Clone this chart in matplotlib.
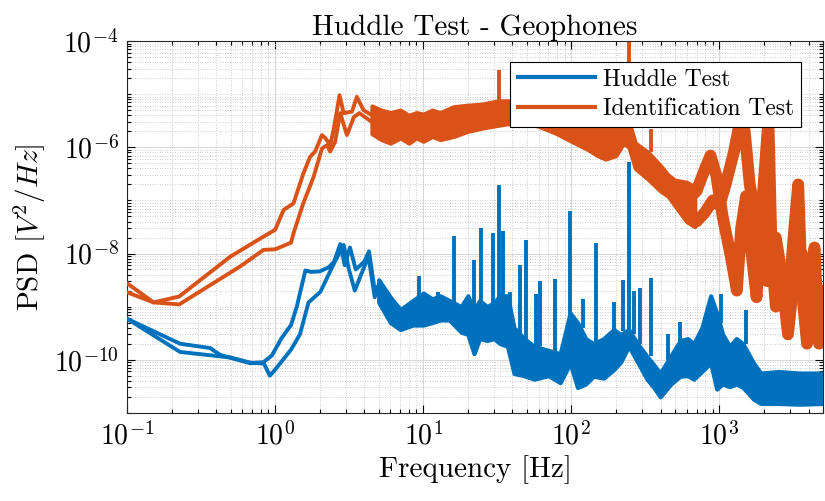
import numpy as np
import matplotlib
matplotlib.use("Agg")
import matplotlib.pyplot as plt
from matplotlib.ticker import LogLocator, NullFormatter, LogFormatterMathtext
from matplotlib.lines import Line2D

plt.rcParams['font.family'] = ['cmr10', 'DejaVu Serif']
plt.rcParams['mathtext.fontset'] = 'cm'
plt.rcParams['axes.unicode_minus'] = False
plt.rcParams['axes.formatter.use_mathtext'] = True

BLUE = '#0072BD'
ORANGE = '#D95319'

# ---------------- Huddle test: low-frequency part (two geophones) ----------------
hud1_f = [0.1, 0.228, 0.364, 0.425, 0.68, 0.834, 0.95, 1.1, 1.28, 1.4, 1.6, 1.75, 2.0, 2.3, 2.5,
          2.75, 2.95, 3.2, 3.5, 4.0, 4.3, 4.7, 5.0]
hud1_v = [5.9e-10, 2.0e-10, 1.66e-10, 1.23e-10, 8.6e-11, 9.0e-11, 1.2e-10, 2.5e-10, 4.5e-10, 1.0e-9,
          4.8e-9, 4.5e-9, 4.6e-9, 5.5e-9, 7e-9, 1.5e-8, 6e-9, 1.3e-8, 5e-9, 7e-9, 1.1e-8, 2e-9, 2.5e-9]
hud2_f = [0.1, 0.228, 0.5, 0.68, 0.84, 0.92, 1.0, 1.28, 1.47, 1.68, 2.02, 2.5, 2.9, 3.15, 3.45,
          3.8, 4.27, 4.7, 5.0]
hud2_v = [5.9e-10, 1.4e-10, 1.1e-10, 8.8e-11, 8.5e-11, 5e-11, 6.5e-11, 1.55e-10, 3e-10, 1.2e-9,
          1.9e-9, 6.6e-9, 1.45e-8, 5e-9, 2.0e-9, 4e-9, 8.7e-9, 1.5e-9, 2.5e-9]

# Huddle test: noisy band (envelope) above ~5 Hz
hud_band_f = [5, 6, 7, 8.5, 10, 11.5, 13, 15, 18, 20, 22, 24, 27, 30, 33, 37, 41, 48, 56, 70, 84,
              98, 110, 125, 141, 165, 193, 215, 244, 280, 324, 360, 398, 470, 544, 610, 670, 760,
              871, 958, 1050, 1170, 1300, 1440, 1700, 1900, 2500, 3500, 5000]
hud_band_lo = [1.2e-9, 5e-10, 3.7e-10, 4.5e-10, 4.5e-10, 5e-10, 5.6e-10, 5.6e-10, 3.3e-10, 3e-10,
               1.3e-10, 2.5e-10, 2.3e-10, 2.5e-10, 2.0e-10, 1.8e-10, 5.5e-11, 5e-11, 4.3e-11, 5e-11,
               3.7e-11, 8.6e-11, 3e-11, 3.5e-11, 4.9e-11, 4.5e-11, 6.5e-11, 9e-11, 1.8e-10, 9e-11,
               4.3e-11, 3e-11, 2.0e-11, 3.5e-11, 4.9e-11, 5e-11, 4.3e-11, 6e-11, 8.7e-11, 2.8e-11,
               3.5e-11, 3.1e-11, 3.5e-11, 3e-11, 1.8e-11, 1.5e-11, 1.5e-11, 1.45e-11, 1.5e-11]
hud_band_hi = [3.2e-9, 1.5e-9, 8.8e-10, 1.3e-9, 1.8e-9, 1.4e-9, 1.6e-9, 1.3e-9, 1.0e-9, 1.6e-9,
               8.8e-10, 1.3e-9, 1.0e-9, 1.2e-9, 1.6e-9, 1.6e-9, 4e-10, 2.5e-10, 1.8e-10, 1.5e-10,
               1.3e-10, 7.6e-10, 5e-10, 2.5e-10, 2.0e-10, 2.5e-10, 3.7e-10, 3e-10, 3.7e-10, 2e-10,
               1.16e-10, 8e-11, 5.6e-11, 1.2e-10, 2.3e-10, 2.5e-10, 2.0e-10, 4e-10, 1.6e-9, 7.6e-10,
               3e-10, 1.8e-10, 2.5e-10, 2e-10, 8.6e-11, 5.6e-11, 6e-11, 5.6e-11, 5.6e-11]

# Huddle test: narrow peaks
hud_spike_f = [9.4, 12.6, 16, 22, 24.7, 29.6, 32.6, 34.6, 38.6, 45, 49.5, 57.7, 61.7, 77.6, 98,
               120, 147, 195, 223, 245, 266, 292, 343, 446, 542, 1028, 1510]
hud_spike_peak = [3.7e-9, 1.9e-9, 2.1e-8, 7.6e-9, 3.0e-8, 2.4e-8, 1.95e-7, 2.6e-8, 1.9e-9, 6.1e-9,
                  1.8e-8, 1.7e-9, 3.0e-9, 3.3e-9, 6.2e-8, 1.4e-9, 1.6e-8, 1.2e-9, 3.2e-9, 5.4e-7,
                  2.0e-9, 2.2e-9, 3.4e-9, 3e-10, 5.2e-10, 1.7e-9, 8.8e-10]
hud_spike_base = [1.5e-9, 1.5e-9, 1.2e-9, 8e-10, 1e-9, 1e-9, 1.5e-9, 1.5e-9, 4e-10, 2e-10,
                  2e-10, 1.8e-10, 1.8e-10, 1.3e-10, 7e-10, 4e-10, 2e-10, 3e-10, 3.5e-10, 3.7e-10,
                  3e-10, 2e-10, 1.2e-10, 1e-10, 2e-10, 5e-10, 2e-10]

# ---------------- Identification test: low-frequency part ----------------
id1_f = [0.1, 0.151, 0.225, 0.497, 0.79, 1.0, 1.14, 1.33, 1.55, 1.72, 1.86, 2.07, 2.18, 2.35,
         2.48, 2.72, 2.9, 3.3, 3.56, 3.95, 4.5]
id1_v = [2.75e-9, 1.2e-9, 1.55e-9, 8.7e-9, 1.9e-8, 2.8e-8, 6.6e-8, 8.8e-8, 3.2e-7, 6.6e-7, 8.3e-7,
         1.7e-6, 1.5e-6, 1.1e-6, 2.1e-6, 9.6e-6, 4.4e-6, 4.7e-6, 8.9e-6, 5e-6, 4e-6]
id2_f = [0.1, 0.151, 0.225, 0.58, 0.834, 1.0, 1.28, 1.33, 1.55, 1.82, 2.07, 2.24, 2.35, 2.54,
         2.75, 3.05, 3.4, 3.7, 4.5]
id2_v = [1.86e-9, 1.2e-9, 1.1e-9, 5.7e-9, 1.17e-8, 1.2e-8, 1.6e-8, 2.4e-8, 8.9e-8, 2.8e-7, 9.5e-7,
         1.1e-6, 8.3e-7, 1.27e-6, 4.4e-6, 1.7e-6, 3.7e-6, 4.4e-6, 3e-6]

# Identification test: noisy band 4.5 - 650 Hz
id_band_f = [4.5, 5.2, 6, 7, 8, 9, 10, 11.5, 13, 16, 20, 25, 32, 38, 45, 60, 80, 100, 130, 150,
             170, 200, 225, 245, 270, 330, 400, 450, 500, 600, 680]
id_band_lo = [1.8e-6, 1.4e-6, 1.2e-6, 1.5e-6, 1.2e-6, 1.5e-6, 1.3e-6, 1.6e-6, 1.4e-6, 1.6e-6,
              2.0e-6, 2.3e-6, 2.6e-6, 2.8e-6, 3.0e-6, 2.5e-6, 1.8e-6, 1.3e-6, 9e-7, 7e-7, 6e-7,
              7e-7, 1.2e-6, 1.0e-6, 4e-7, 2.5e-7, 1.5e-7, 1.2e-7, 8e-8, 4e-8, 3.2e-8]
id_band_hi = [6e-6, 5e-6, 4.5e-6, 5e-6, 4e-6, 4.5e-6, 4.2e-6, 5e-6, 4.5e-6, 5.8e-6, 6.2e-6,
              6.5e-6, 7.5e-6, 7.5e-6, 7.0e-6, 6e-6, 4.5e-6, 3.5e-6, 2.8e-6, 2.6e-6, 2.4e-6, 2.6e-6,
              4.5e-6, 3e-6, 1.2e-6, 8e-7, 4.5e-7, 3e-7, 2.4e-7, 2.2e-7, 1.8e-7]

# Identification test: two diverging traces above 600 Hz
idA_f = [600, 700, 800, 870, 950, 1050, 1200, 1310, 1400, 1510, 1600, 1780, 1950, 2140, 2250,
         2400, 2600, 2900, 3200, 3400, 3600, 3900, 4300, 4600, 5000]
idA_v = [1.0e-7, 1.5e-7, 4e-7, 7e-7, 3e-7, 5e-8, 8e-9, 2e-9, 3e-8, 1.2e-7, 2e-8, 1.5e-9, 1e-7,
         3.3e-6, 1e-8, 1e-9, 5e-9, 1e-9, 3e-8, 2e-7, 2e-9, 2e-10, 1e-8, 3e-10, 1e-9]
idB_f = [600, 700, 800, 900, 1000, 1100, 1250, 1400, 1480, 1600, 1870, 2100, 2400, 2600, 2900,
         3200, 3600, 3900, 4380, 4700, 5000]
idB_v = [6e-8, 4e-8, 6e-8, 1e-7, 8e-8, 2e-7, 8e-7, 4e-6, 2e-6, 2e-7, 2e-8, 3e-9, 2e-8, 5e-9,
         3e-10, 4e-9, 1e-8, 5e-10, 1.3e-8, 2e-10, 2e-9]

# Identification test: narrow peaks
id_spike_f = [32.6, 245, 343]
id_spike_peak = [2.8e-5, 3e-4, 2.2e-6]
id_spike_base = [7e-6, 3e-6, 8e-7]

# ---------------- Figure ----------------
fig = plt.figure(figsize=(8.25, 5.01), dpi=100)
ax = fig.add_axes([0.154, 0.176, 0.8436, 0.742])

lw = 2.8
# Huddle
ax.fill_between(hud_band_f, hud_band_lo, hud_band_hi, color=BLUE, lw=3, edgecolor=BLUE, zorder=2)
ax.vlines(hud_spike_f, hud_spike_base, hud_spike_peak, color=BLUE, lw=2.8, zorder=2)
ax.plot(hud1_f, hud1_v, color=BLUE, lw=lw, zorder=3)
ax.plot(hud2_f, hud2_v, color=BLUE, lw=lw, zorder=3)
# Identification
ax.fill_between(id_band_f, id_band_lo, id_band_hi, color=ORANGE, lw=3, edgecolor=ORANGE, zorder=2)
ax.plot(idA_f, idA_v, color=ORANGE, lw=8.5, zorder=2, solid_joinstyle='round')
ax.plot(idB_f, idB_v, color=ORANGE, lw=8.5, zorder=2, solid_joinstyle='round')
ax.vlines(id_spike_f, id_spike_base, id_spike_peak, color=ORANGE, lw=2.8, zorder=2)
ax.plot(id1_f, id1_v, color=ORANGE, lw=lw, zorder=3)
ax.plot(id2_f, id2_v, color=ORANGE, lw=lw, zorder=3)

ax.set_xscale('log')
ax.set_yscale('log')
ax.set_xlim(0.1, 5000)
ax.set_ylim(1e-11, 1e-4)

ax.xaxis.set_major_locator(LogLocator(base=10, numticks=20))
ax.xaxis.set_minor_locator(LogLocator(base=10, subs=np.arange(2, 10), numticks=100))
ax.xaxis.set_minor_formatter(NullFormatter())
ax.set_yticks([1e-10, 1e-8, 1e-6, 1e-4])
ax.yaxis.set_major_formatter(LogFormatterMathtext())
ax.yaxis.set_minor_locator(LogLocator(base=10, subs=np.arange(1, 10), numticks=100))
ax.yaxis.set_minor_formatter(NullFormatter())

ax.tick_params(which='both', direction='in', top=True, right=True, labelsize=20, width=0.8)
ax.tick_params(which='major', length=6, pad=6)
ax.tick_params(which='minor', length=3)
ax.grid(True, which='major', color='#d9d9d9', lw=0.8, ls='-')
ax.grid(True, which='minor', color='#bdbdbd', lw=0.6, ls=(0, (1, 2)))
ax.set_axisbelow(True)
for s in ax.spines.values():
    s.set_linewidth(0.8)
    s.set_color('#262626')

ax.set_title('Huddle Test - Geophones', fontsize=21, pad=4)
ax.set_xlabel('Frequency [Hz]', fontsize=21, labelpad=4)
ax.set_ylabel('PSD $[V^2/Hz]$', fontsize=21, labelpad=4)

handles = [Line2D([], [], color=BLUE, lw=3), Line2D([], [], color=ORANGE, lw=3)]
leg = ax.legend(handles, ['Huddle Test', 'Identification Test'], loc='upper right',
                bbox_to_anchor=(0.968, 0.945), fontsize=17, frameon=True, fancybox=False,
                framealpha=1, edgecolor='black', handlelength=3.3, borderpad=0.3,
                labelspacing=0.3, handletextpad=0.3, borderaxespad=0)
leg.get_frame().set_linewidth(0.8)

fig.savefig('out.png', dpi=100)
